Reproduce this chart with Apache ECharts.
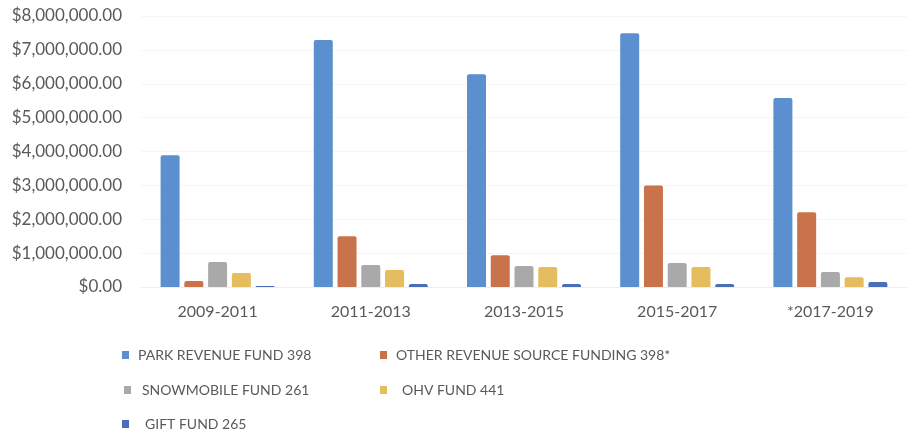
<!DOCTYPE html>
<html>
<head>
<meta charset="utf-8">
<script src="https://cdn.jsdelivr.net/npm/echarts@6/dist/echarts.min.js"></script>
<style>
  html, body { margin: 0; padding: 0; background: #fff; }
  #chart { width: 907px; height: 435px; }
</style>
</head>
<body>
<div id="chart"></div>
<script>
// biennium periods
let periods = ["2009-2011", "2011-2013", "2013-2015", "2015-2017", "*2017-2019"];

// fund values (dollars)
let parkRevenue = [3890000, 7290000, 6280000, 7490000, 5580000];
let otherRevenue = [180000, 1500000, 940000, 3000000, 2210000];
let snowmobile = [740000, 650000, 620000, 710000, 440000];
let ohv = [410000, 500000, 590000, 590000, 290000];
let gift = [30000, 90000, 90000, 90000, 150000];

let seriesNames = [
    "PARK REVENUE FUND 398",
    "OTHER REVENUE SOURCE FUNDING 398*",
    "SNOWMOBILE FUND 261",
    "OHV FUND 441",
    "GIFT FUND 265"
];
let seriesData = [parkRevenue, otherRevenue, snowmobile, ohv, gift];
let colors = ["#5b8fd0", "#c9734a", "#a9a9a9", "#e6bd5e", "#4a6fb8"];

let fontFamily = "Lato, 'Open Sans', sans-serif";

function money(v) {
    return "$" + v.toLocaleString("en-US", {minimumFractionDigits: 2, maximumFractionDigits: 2});
}

// one legend per item so they sit like the original two-column layout
let legendPos = [
    {left: 122, top: 348, pad: 4},
    {left: 380, top: 348, pad: 4},
    {left: 124, top: 383, pad: 6},
    {left: 380, top: 383, pad: 10},
    {left: 122, top: 417, pad: 11}
];
let legends = seriesNames.map(function (name, i) {
    return {
        data: [name],
        left: legendPos[i].left,
        top: legendPos[i].top,
        icon: "rect",
        itemWidth: 7,
        itemHeight: 8,
        itemGap: 0,
        padding: 0,
        textStyle: {color: "#595959", fontSize: 14, fontFamily: fontFamily, padding: [0, 0, 0, legendPos[i].pad]}
    };
});

let chart = echarts.init(document.getElementById("chart"));
let option = {
    animation: false,
    color: colors,
    legend: legends,
    grid: {left: 141, right: -8, top: 16, bottom: 148, containLabel: false},
    xAxis: {
        type: "category",
        data: periods,
        axisLine: {show: true, lineStyle: {color: "#eeeeee"}},
        axisTick: {show: false},
        axisLabel: {color: "#595959", fontSize: 16, fontFamily: fontFamily, margin: 17}
    },
    yAxis: {
        type: "value",
        min: 0,
        max: 8000000,
        interval: 1000000,
        axisLine: {show: false},
        axisTick: {show: false},
        splitLine: {lineStyle: {color: "#f5f5f5"}},
        axisLabel: {
            color: "#595959",
            fontSize: 17,
            fontFamily: fontFamily,
            margin: 19,
            formatter: money
        }
    },
    series: seriesData.map(function (d, i) {
        return {
            name: seriesNames[i],
            type: "bar",
            data: d,
            barWidth: 19,
            barGap: "25%",
            itemStyle: {borderRadius: [2, 2, 0, 0]}
        };
    })
};
chart.setOption(option);
</script>
</body>
</html>
